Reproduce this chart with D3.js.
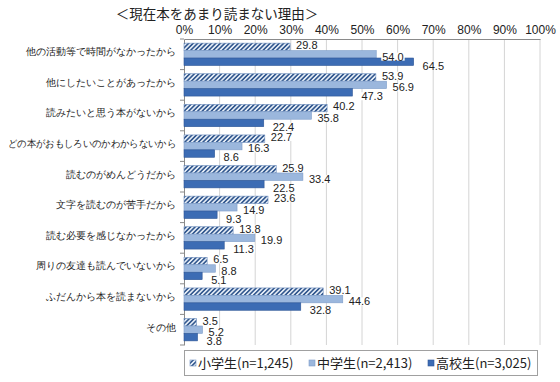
<!DOCTYPE html>
<html>
<head>
<meta charset="utf-8">
<script src="https://cdn.jsdelivr.net/npm/d3@7"></script>
<style>
  body { margin: 0; background: #fff; }
  svg { display: block; font-family: "Noto Sans CJK JP", "Noto Sans", sans-serif; }
</style>
</head>
<body>
<svg id="chart"></svg>
<script>
// データ
const categories = [
  '他の活動等で時間がなかったから',
  '他にしたいことがあったから',
  '読みたいと思う本がないから',
  'どの本がおもしろいのかわからないから',
  '読むのがめんどうだから',
  '文字を読むのが苦手だから',
  '読む必要を感じなかったから',
  '周りの友達も読んでいないから',
  'ふだんから本を読まないから',
  'その他'
];
const elementary = [29.8, 53.9, 40.2, 22.7, 25.9, 23.6, 13.8, 6.5, 39.1, 3.5];
const junior = [54.0, 56.9, 35.8, 16.3, 33.4, 14.9, 19.9, 8.8, 44.6, 5.2];
const high = [64.5, 47.3, 22.4, 8.6, 22.5, 9.3, 11.3, 5.1, 32.8, 3.8];
const seriesNames = ['小学生(n=1,245)', '中学生(n=2,413)', '高校生(n=3,025)'];
const xTicks = [0, 10, 20, 30, 40, 50, 60, 70, 80, 90, 100];

const width = 560;
const height = 382;
const margin = { top: 39, left: 184, right: 20, bottom: 37 };

const svg = d3.select('#chart')
  .attr('width', width)
  .attr('height', height);

// 斜線パターン
const defs = svg.append('defs');
const pat = defs.append('pattern')
  .attr('id', 'hatch')
  .attr('patternUnits', 'userSpaceOnUse')
  .attr('width', 3.2)
  .attr('height', 3.2)
  .attr('patternTransform', 'rotate(45)');
pat.append('rect').attr('width', 3.2).attr('height', 3.2).attr('fill', '#e4ecf6');
pat.append('rect').attr('width', 1.6).attr('height', 3.2).attr('fill', '#34598f');

const x = d3.scaleLinear()
  .domain([0, 100])
  .range([margin.left, width - margin.right]);

const y = d3.scaleBand()
  .domain(categories)
  .range([margin.top, height - margin.bottom])
  .paddingInner(0.27)
  .paddingOuter(0.135);

const sub = d3.scaleBand()
  .domain([0, 1, 2])
  .range([0, y.bandwidth()]);

// タイトル
svg.append('text')
  .attr('x', 217)
  .attr('y', 19)
  .attr('text-anchor', 'middle')
  .attr('font-size', 13.5)
  .attr('fill', '#222')
  .text('＜現在本をあまり読まない理由＞');

// グリッド線
svg.append('g')
  .selectAll('line')
  .data(xTicks.slice(1))
  .enter().append('line')
  .attr('x1', d => x(d))
  .attr('x2', d => x(d))
  .attr('y1', margin.top)
  .attr('y2', height - margin.bottom)
  .attr('stroke', '#d4d4d4')
  .attr('stroke-width', 1);

// 上の軸
const xAxis = svg.append('g')
  .attr('transform', `translate(0,${margin.top})`)
  .call(d3.axisTop(x).tickValues(xTicks).tickFormat(d => d + '%').tickSize(0).tickPadding(5));
xAxis.select('.domain').attr('stroke', '#8a8a8a');
xAxis.selectAll('text')
  .attr('font-size', 12)
  .attr('fill', '#222')
  .attr('font-family', '"Liberation Sans", "Noto Sans", sans-serif');

// 左の軸
const yAxis = svg.append('g')
  .attr('transform', `translate(${margin.left},0)`)
  .call(d3.axisLeft(y).tickSize(0).tickPadding(8));
yAxis.select('.domain').attr('stroke', '#8a8a8a');
yAxis.selectAll('text')
  .attr('font-size', 9.7)
  .attr('fill', '#222')
  .attr('dy', '0.1em')
  .each(function () {
    // 左端からはみ出す長いラベルは幅を詰める
    if (this.getComputedTextLength() > 168) {
      d3.select(this).attr('textLength', 168).attr('lengthAdjust', 'spacingAndGlyphs');
    }
  });

// 区切りの目盛り
const step = y.step();
svg.append('g')
  .selectAll('line')
  .data(d3.range(categories.length + 1))
  .enter().append('line')
  .attr('x1', margin.left - 4)
  .attr('x2', margin.left)
  .attr('y1', i => margin.top + i * step)
  .attr('y2', i => margin.top + i * step)
  .attr('stroke', '#8a8a8a');

// 棒
const series = [elementary, junior, high];
const fills = ['url(#hatch)', '#9bb7dd', '#3c6cb4'];
const strokes = ['#6f8fbf', '#7f9dc9', '#2c5596'];
const labelDx = [6, 6, 9];
const labelDy = [-1.5, 2.5, 4];

series.forEach((vals, s) => {
  const g = svg.append('g');
  g.selectAll('rect')
    .data(vals)
    .enter().append('rect')
    .attr('x', x(0))
    .attr('y', (d, i) => y(categories[i]) + sub(s))
    .attr('width', d => x(d) - x(0))
    .attr('height', sub.bandwidth())
    .attr('fill', fills[s])
    .attr('stroke', strokes[s])
    .attr('stroke-width', 0.6);
});

// 数値ラベル
series.forEach((vals, s) => {
  const lab = svg.append('g')
    .selectAll('g')
    .data(vals)
    .enter().append('g')
    .attr('transform', (d, i) => `translate(${x(d) + labelDx[s]},${y(categories[i]) + sub(s) + sub.bandwidth() / 2 + labelDy[s]})`);
  lab.append('rect').attr('fill', '#fff');
  const txt = lab.append('text')
    .attr('font-size', 11)
    .attr('font-family', '"Liberation Sans", "Noto Sans", sans-serif')
    .attr('fill', '#222')
    .attr('dy', '0.35em')
    .text(d => d.toFixed(1));
  txt.each(function () {
    const b = this.getBBox();
    d3.select(this.previousSibling)
      .attr('x', b.x - 1)
      .attr('y', b.y + 2)
      .attr('width', b.width + 2)
      .attr('height', b.height - 4);
  });
});

// 凡例
const legend = svg.append('g');
legend.append('rect')
  .attr('x', 184.5)
  .attr('y', 350.5)
  .attr('width', 353)
  .attr('height', 25)
  .attr('fill', '#fff')
  .attr('stroke', '#a0a0a0');

const legendX = [190, 309, 428];
seriesNames.forEach((name, s) => {
  legend.append('rect')
    .attr('x', legendX[s])
    .attr('y', 360)
    .attr('width', 6)
    .attr('height', 6)
    .attr('fill', fills[s])
    .attr('stroke', strokes[s])
    .attr('stroke-width', 0.6);
  legend.append('text')
    .attr('x', legendX[s] + 8)
    .attr('y', 368)
    .attr('font-size', 13)
    .attr('fill', '#222')
    .text(name);
});
</script>
</body>
</html>
